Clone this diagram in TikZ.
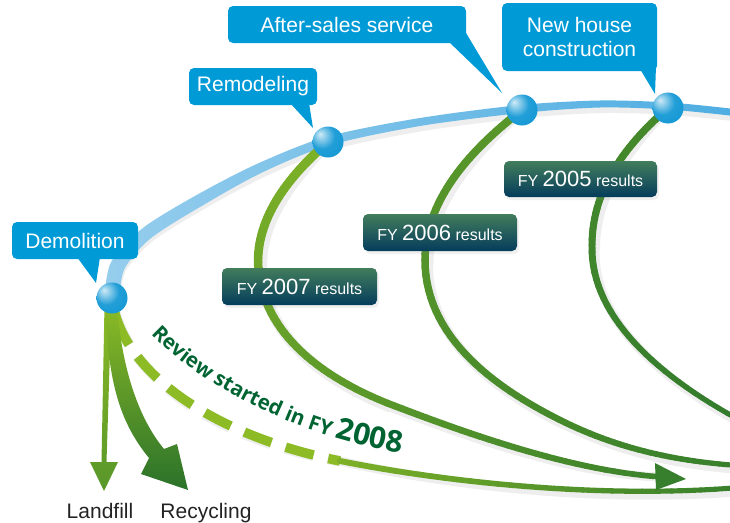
\documentclass[tikz,border=0pt]{standalone}
\usepackage{fontspec}
\setmainfont{Liberation Sans}
\newfontfamily\revfont{Open Sans}
\usetikzlibrary{decorations.text,shadows}

\definecolor{calloutblue}{RGB}{0,155,215}
\definecolor{ballblue}{RGB}{15,150,212}
\definecolor{bandL}{RGB}{150,205,237}
\definecolor{bandR}{RGB}{75,172,225}
\definecolor{glight}{RGB}{140,187,38}
\definecolor{gdark}{RGB}{45,120,45}
\definecolor{fytop}{RGB}{66,125,92}
\definecolor{fybot}{RGB}{5,60,92}
\definecolor{revgreen}{RGB}{0,100,50}
\definecolor{labelgray}{RGB}{35,35,35}
\definecolor{shadowgray}{RGB}{238,238,238}

\pgfdeclareradialshading{glassball}{\pgfpoint{-13bp}{13bp}}{%
 color(0bp)=(white!80!ballblue); color(7bp)=(ballblue!45!white); color(20bp)=(ballblue!92!white);
 color(42bp)=(ballblue); color(70bp)=(ballblue!78!black)}

% tapered, colour-graded bezier segment
\newcommand\taperseg[8]{%
  \foreach \k in {1,...,30}{%
    \pgfmathsetmacro\ta{(\k-1)/30}%
    \pgfmathsetmacro\tb{\k/30}%
    \pgfmathsetmacro\ww{#5+(#6-#5)*(\k-0.5)/30}%
    \pgfmathtruncatemacro\cc{#7+(#8-#7)*(\k-0.5)/30}%
    \path #1 .. controls #2 and #3 .. #4 coordinate[pos=\ta] (tA) coordinate[pos=\tb] (tB);%
    \draw[line width=\ww pt, line cap=round, color=gdark!\cc!glight] (tA) -- (tB);%
  }%
}
% soft shadow of a bezier segment
\newcommand\shadowseg[5]{%
  \draw[shadowgray, line width=#5pt, line cap=round, shift={(3,4)}] #1 .. controls #2 and #3 .. #4;%
}

\tikzset{
  callout/.style={fill=calloutblue, rounded corners=5pt, text=white, inner sep=0pt,
    align=center, font=\fontsize{21}{24}\selectfont},
  fybox/.style={rounded corners=5pt, top color=fytop, bottom color=fybot, text=white,
    inner sep=0pt, minimum height=37pt, font=\fontsize{16}{18}\selectfont,
    drop shadow={opacity=0.12, shadow xshift=2pt, shadow yshift=-3pt}},
  ballnode/.style={circle, minimum size=31pt, inner sep=0pt, shading=glassball},
  bottomlabel/.style={font=\fontsize{21}{24}\selectfont, text=labelgray, anchor=base},
  reviewdash/.style={dash pattern=on 50pt off 15pt on 29pt off 15pt on 29pt off 15pt on 29pt off 15pt on 29pt off 15pt on 29pt off 15pt on 29pt off 15pt},
}
\newcommand\yr[1]{{\fontsize{22}{24}\selectfont #1}}

\begin{document}
\begin{tikzpicture}[x=1pt,y=-1pt]
\useasboundingbox (0,0) rectangle (730,522);
\clip (0,0) rectangle (730,522);

\coordinate (demo) at (112,298);
\coordinate (remo) at (328,142);
\coordinate (after) at (522,110);
\coordinate (newh) at (668,108);
\coordinate (aEnd) at (662,477);
\coordinate (dMid) at (340,461);

% shadows
\draw[shadowgray, line width=11pt, reviewdash, shift={(3,4)}] (demo) .. controls (120,370) and (210,435) .. (dMid);
\shadowseg{(dMid)}{(440,481)}{(600,500)}{(745,487)}{9}
\shadowseg{(remo)}{(290,175)}{(258,215)}{(258,262)}{12}
\shadowseg{(258,262)}{(260,322)}{(305,370)}{(387,403)}{11}
\shadowseg{(387,403)}{(460,431)}{(570,471)}{(aEnd)}{9}
\shadowseg{(after)}{(470,150)}{(425,200)}{(425,260)}{11}
\shadowseg{(425,260)}{(425,340)}{(500,390)}{(560,420)}{10}
\shadowseg{(560,420)}{(620,450)}{(680,462)}{(745,466)}{9}
\shadowseg{(newh)}{(625,145)}{(592,190)}{(592,245)}{10}
\shadowseg{(592,245)}{(590,315)}{(655,375)}{(745,423)}{9}
\draw[shadowgray, line width=10pt, shift={(3,4)}] plot[smooth] coordinates {(112,297) (118,265) (147,233)
  (200,200) (260,168) (328,141) (420,122) (521,109) (600,104) (668,106) (730,112) (760,116)};

% blue life-cycle band
\shade[left color=bandL, right color=bandR]
  plot[smooth] coordinates {(104.6,295.5) (111.4,261.4) (143.0,227.9) (197.0,194.8)
    (257.9,163.5) (326.8,136.7) (419.3,118.1) (520.6,105) (600,100.5) (668.2,102.5)
    (730.3,108.5) (760.4,112.5)}
  -- plot[smooth] coordinates {(759.6,119.5) (729.7,115.5) (667.8,109.5) (600,107.5)
    (521.4,113) (420.7,125.9) (329.2,145.3) (262.1,172.5) (203.0,205.2) (151.0,238.1)
    (124.6,268.6) (119.4,298.5)}
  -- cycle;

% dashed review curve (FY 2008)
\draw[line width=9.5pt, glight, reviewdash] (demo) .. controls (120,370) and (210,435) .. (dMid);
\taperseg{(dMid)}{(440,481)}{(600,500)}{(745,487)}{6}{5}{15}{90}

% FY 2007 curve
\taperseg{(remo)}{(290,175)}{(258,215)}{(258,262)}{9}{8.5}{15}{30}
\taperseg{(258,262)}{(260,322)}{(305,370)}{(387,403)}{8.5}{7}{30}{55}
\taperseg{(387,403)}{(460,431)}{(570,471)}{(aEnd)}{7}{5.5}{55}{85}
\fill[gdark!90!glight] (655,463) -- (686,479) -- (656,490) -- cycle;

% FY 2006 curve
\taperseg{(after)}{(470,150)}{(425,200)}{(425,260)}{8}{7.5}{55}{60}
\taperseg{(425,260)}{(425,340)}{(500,390)}{(560,420)}{7.5}{6.5}{60}{75}
\taperseg{(560,420)}{(620,450)}{(680,462)}{(745,466)}{6.5}{5}{75}{90}

% FY 2005 curve
\taperseg{(newh)}{(625,145)}{(592,190)}{(592,245)}{7.5}{7}{75}{80}
\taperseg{(592,245)}{(590,315)}{(655,375)}{(745,423)}{7}{5}{80}{95}

% landfill arrow
\shade[top color=glight, bottom color=gdark!55!glight]
  (104.5,305) -- (111.5,305) -- (106.5,462) -- (118,462) -- (104,491) -- (90,462)
  -- (101.5,462) -- cycle;
% recycling arrow
\shade[top color=glight, bottom color=gdark!95!black]
  (106,305) .. controls (107,385) and (122,425) .. (149,458) -- (141,474) -- (188,490)
  -- (177,444) -- (164,449) .. controls (140,420) and (122,372) .. (117,305) -- cycle;

% review text
\path[decorate, decoration={text along path, text color=revgreen,
  text={|\revfont\bfseries\fontsize{20.5}{22}\selectfont|Review started in FY |\revfont\bfseries\fontsize{30}{32}\selectfont|2008}}]
  (151,334) .. controls (205,391) and (318,445) .. (420,455);

% result boxes
\node[fybox, minimum width=155pt] (fy7) at (299.5,286.5) {FY \yr{2007} results};
\node[fybox, minimum width=154pt] (fy6) at (440,232.5) {FY \yr{2006} results};
\node[fybox, minimum width=153pt, minimum height=36pt] (fy5) at (580.5,179) {FY \yr{2005} results};

% balls
\node[ballnode] (bDemo) at (demo) {};
\node[ballnode] (bRemo) at (remo) {};
\node[ballnode] (bAfter) at (after) {};
\node[ballnode] (bNew) at (newh) {};

% callouts
\fill[calloutblue] (77,257) -- (100,257) -- (96,283) -- cycle;
\fill[calloutblue] (290,103) -- (309,103) -- (313,128) -- cycle;
\fill[calloutblue] (448,41) -- (466,33) -- (502,93) -- cycle;
\fill[calloutblue] (640,69) -- (656,66) -- (655,94) -- cycle;
\node[callout, minimum width=126pt, minimum height=37pt] (cDemo) at (75,240.5) {Demolition};
\node[callout, minimum width=128pt, minimum height=37pt] (cRemo) at (253,86.5) {Remodeling};
\node[callout, minimum width=238pt, minimum height=37pt] (cAfter) at (347,24.5) {After-sales service};
\node[callout, minimum width=155pt, minimum height=68pt] (cNew) at (579.5,37) {New house\\construction};

% bottom labels
\node[bottomlabel] (lLand) at (100,518) {Landfill};
\node[bottomlabel] (lRecy) at (206,518) {Recycling};
\end{tikzpicture}
\end{document}
